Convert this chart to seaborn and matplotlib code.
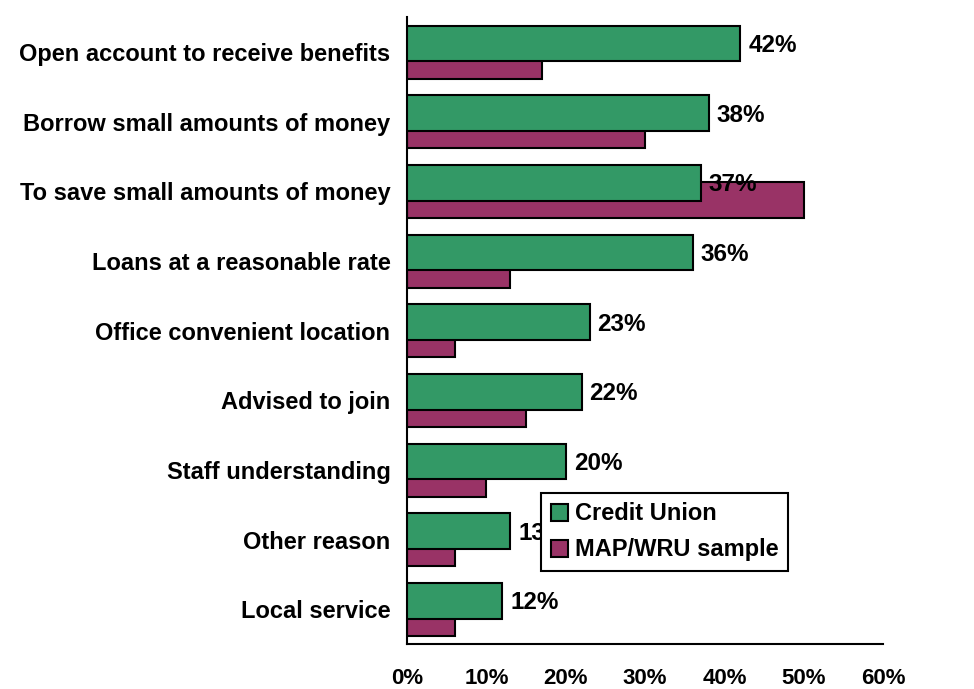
import matplotlib
matplotlib.use("Agg")
import matplotlib.pyplot as plt
from matplotlib.patches import Patch
from matplotlib.ticker import FixedLocator
import seaborn as sns
import pandas as pd

# Reasons for joining, top to bottom
categories = [
    "Open account to receive benefits",
    "Borrow small amounts of money",
    "To save small amounts of money",
    "Loans at a reasonable rate",
    "Office convenient location",
    "Advised to join",
    "Staff understanding",
    "Other reason",
    "Local service",
]
credit_union = [42, 38, 37, 36, 23, 22, 20, 13, 12]
map_wru = [17, 30, 50, 13, 6, 15, 10, 6, 6]
series_names = ["Credit Union", "MAP/WRU sample"]
x_ticks = [0, 10, 20, 30, 40, 50, 60]
x_tick_labels = ["0%", "10%", "20%", "30%", "40%", "50%", "60%"]

GREEN = "#339966"
MAROON = "#993366"

sns.set_style("white")
plt.rcParams["font.family"] = ["Liberation Sans", "DejaVu Sans"]
plt.rcParams["font.weight"] = "bold"
plt.rcParams["text.color"] = "black"
plt.rcParams["xtick.color"] = "black"
plt.rcParams["ytick.color"] = "black"

df = pd.DataFrame({"reason": categories, "cu": credit_union, "map": map_wru})

fig = plt.figure(figsize=(9.74, 6.89), dpi=100)
ax = fig.add_axes([0.418, 0.0653, 0.4887, 0.91])

BAR_H = 0.51
# back series (maroon), shifted toward the lower half of each category
sns.barplot(data=df, x="map", y="reason", orient="h", color=MAROON,
            width=BAR_H, edgecolor="black", linewidth=1.5, saturation=1,
            ax=ax, zorder=2)
n_back = len(ax.patches)
for p in ax.patches:
    p.set_y(p.get_y() + 0.13)

# front series (green), shifted toward the upper half
sns.barplot(data=df, x="cu", y="reason", orient="h", color=GREEN,
            width=BAR_H, edgecolor="black", linewidth=1.5, saturation=1,
            ax=ax, zorder=3)
green_patches = ax.patches[n_back:]
for p in green_patches:
    p.set_y(p.get_y() - 0.12)

# value labels on the green bars
for p, v in zip(green_patches, credit_union):
    ax.text(p.get_x() + p.get_width() + 1.0, p.get_y() + p.get_height() / 2 + 0.03,
            f"{v}%", ha="left", va="center", fontsize=17.5, fontweight="bold",
            color="black", zorder=4)

ax.set_xlim(0, 60)
ax.set_ylim(len(categories) - 0.5, -0.5)
ax.set_xticks(x_ticks)
ax.set_xticklabels(x_tick_labels, fontsize=16, fontweight="bold")
ax.set_yticks(range(len(categories)))
ax.set_yticklabels(categories, fontsize=17, fontweight="bold")
ax.yaxis.set_minor_locator(FixedLocator([i - 0.5 for i in range(len(categories) + 1)]))
ax.tick_params(axis="y", which="major", length=0, pad=12)
ax.tick_params(axis="y", which="minor", length=7, width=1.5, direction="out", color="black")
ax.tick_params(axis="x", which="major", length=7, width=1.5, direction="out",
               color="black", pad=10)
ax.set_xlabel("")
ax.set_ylabel("")

for side in ["top", "right"]:
    ax.spines[side].set_visible(False)
for side in ["left", "bottom"]:
    ax.spines[side].set_color("black")
    ax.spines[side].set_linewidth(1.5)

handles = [Patch(facecolor=GREEN, edgecolor="black", linewidth=1.5),
           Patch(facecolor=MAROON, edgecolor="black", linewidth=1.5)]
leg = ax.legend(handles, series_names, loc="upper left",
                bbox_to_anchor=(0.2815, 0.2408), fancybox=False, framealpha=1,
                edgecolor="black", prop={"size": 17, "weight": "bold"},
                handlelength=0.75, handleheight=0.75, handletextpad=0.3,
                borderpad=0.4, labelspacing=0.55, borderaxespad=0)
leg.get_frame().set_linewidth(1.5)
leg.set_zorder(10)

fig.savefig("out.png", dpi=100)
